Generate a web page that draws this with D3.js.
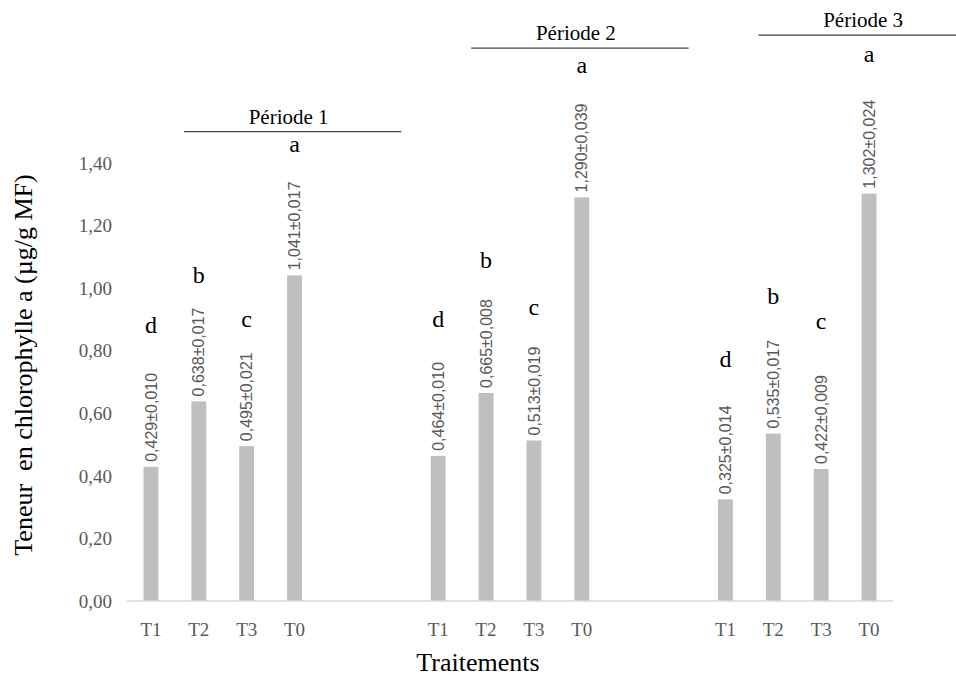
<!DOCTYPE html>
<html lang="fr">
<head>
<meta charset="UTF-8">
<title>Teneur en chlorophylle a</title>
<script src="https://cdn.jsdelivr.net/npm/d3@7"></script>
<style>
  body { margin: 0; background: #fff; }
  .serif { font-family: "Liberation Serif", "DejaVu Serif", serif; }
  .tick-label { font-size: 19px; fill: #595959; }
  .value-label { font-family: "Liberation Sans", Arial, sans-serif; font-size: 16px; fill: #595959; }
  .letter { font-size: 24px; fill: #000; }
  .period { font-size: 21px; fill: #000; }
  .axis-title { font-size: 26px; fill: #000; }
</style>
</head>
<body>
<script>
// values
const treatments = ["T1", "T2", "T3", "T0"];
const periods = ["Période 1", "Période 2", "Période 3"];
const means = [
  [0.429, 0.638, 0.495, 1.041],
  [0.464, 0.665, 0.513, 1.290],
  [0.325, 0.535, 0.422, 1.302]
];
const sds = [
  [0.010, 0.017, 0.021, 0.017],
  [0.010, 0.008, 0.019, 0.039],
  [0.014, 0.017, 0.009, 0.024]
];
const letters = [
  ["d", "b", "c", "a"],
  ["d", "b", "c", "a"],
  ["d", "b", "c", "a"]
];
// letter baselines, in axis units
const letterY = [
  [0.857, 1.016, 0.876, 1.435],
  [0.876, 1.064, 0.914, 1.687],
  [0.748, 0.949, 0.869, 1.723]
];
const yTicks = [0, 0.2, 0.4, 0.6, 0.8, 1.0, 1.2, 1.4];

const width = 956, height = 679;
const plot = { left: 127, right: 893, top: 163, bottom: 601 };
const slotsPerGroup = 6;   // 4 bars + 2 empty categories between groups

const fr = d3.formatLocale({ decimal: ",", thousands: " ", grouping: [3], currency: ["", " €"] });
const f2 = fr.format(".2f"), f3 = fr.format(".3f");

// flat category list, empty slots between periods
const cats = [];
periods.forEach((p, g) => {
  treatments.forEach((t, i) => cats.push({ key: g * slotsPerGroup + i, label: t, g, i,
    value: means[g][i], sd: sds[g][i], letter: letters[g][i], ly: letterY[g][i] }));
  if (g < periods.length - 1) {
    cats.push({ key: g * slotsPerGroup + 4, label: "" });
    cats.push({ key: g * slotsPerGroup + 5, label: "" });
  }
});
const bars = cats.filter(d => d.label !== "");

const x = d3.scaleBand()
  .domain(cats.map(d => d.key))
  .range([plot.left, plot.right])
  .paddingInner(0.69)
  .paddingOuter(0.345);
const y = d3.scaleLinear().domain([0, 1.4]).range([plot.bottom, plot.top]);

const cx = k => x(k) + x.bandwidth() / 2;
const slotX = s => plot.left + x.step() * x.paddingOuter() - x.step() * x.paddingInner() / 2 + (s + 0.5) * x.step();

const svg = d3.select("body").append("svg")
  .attr("width", width)
  .attr("height", height);

// y tick labels (no gridlines in the original)
svg.append("g").selectAll("text")
  .data(yTicks)
  .join("text")
  .attr("class", "serif tick-label")
  .attr("x", 112)
  .attr("y", d => y(d))
  .attr("dy", "0.35em")
  .attr("text-anchor", "end")
  .text(d => f2(d));

// bars
svg.append("g").selectAll("rect")
  .data(bars)
  .join("rect")
  .attr("x", d => x(d.key))
  .attr("y", d => y(d.value))
  .attr("width", x.bandwidth())
  .attr("height", d => y(0) - y(d.value))
  .attr("fill", "#bfbfbf");

// x axis line
svg.append("line")
  .attr("x1", plot.left).attr("x2", plot.right)
  .attr("y1", y(0)).attr("y2", y(0))
  .attr("stroke", "#d9d9d9")
  .attr("stroke-width", 1.5);

// x tick labels
svg.append("g").selectAll("text")
  .data(bars)
  .join("text")
  .attr("class", "serif tick-label")
  .attr("x", d => cx(d.key))
  .attr("y", y(0) + 28)
  .attr("dy", "0.35em")
  .attr("text-anchor", "middle")
  .text(d => d.label);

// mean ± sd labels, vertical
svg.append("g").selectAll("text")
  .data(bars)
  .join("text")
  .attr("class", "value-label")
  .attr("transform", d => `translate(${cx(d.key)},${y(d.value) - 5}) rotate(-90)`)
  .attr("dy", "0.35em")
  .text(d => `${f3(d.value)}±${f3(d.sd)}`);

// significance letters
svg.append("g").selectAll("text")
  .data(bars)
  .join("text")
  .attr("class", "serif letter")
  .attr("x", d => cx(d.key))
  .attr("y", d => y(d.ly))
  .attr("text-anchor", "middle")
  .text(d => d.letter);

// period headers: title over a rule
const headerY = [1.50, 1.767, 1.809];
periods.forEach((p, g) => {
  const x0 = slotX(g * slotsPerGroup + 0.69);
  const x1 = slotX(g * slotsPerGroup + 5.23);
  svg.append("line")
    .attr("x1", x0).attr("x2", x1)
    .attr("y1", y(headerY[g])).attr("y2", y(headerY[g]))
    .attr("stroke", "#404040")
    .attr("stroke-width", 1.2);
  svg.append("text")
    .attr("class", "serif period")
    .attr("x", (x0 + x1) / 2 - 4)
    .attr("y", y(headerY[g]) - 8)
    .attr("text-anchor", "middle")
    .text(p);
});

// axis titles
svg.append("text")
  .attr("class", "serif axis-title")
  .attr("x", 478)
  .attr("y", 671)
  .attr("text-anchor", "middle")
  .text("Traitements");

svg.append("text")
  .attr("class", "serif axis-title")
  .attr("transform", `translate(32,${(plot.top + plot.bottom) / 2 - 17}) rotate(-90)`)
  .attr("text-anchor", "middle")
  .style("white-space", "pre")
  .text("Teneur  en chlorophylle a (µg/g MF)");
</script>
</body>
</html>
